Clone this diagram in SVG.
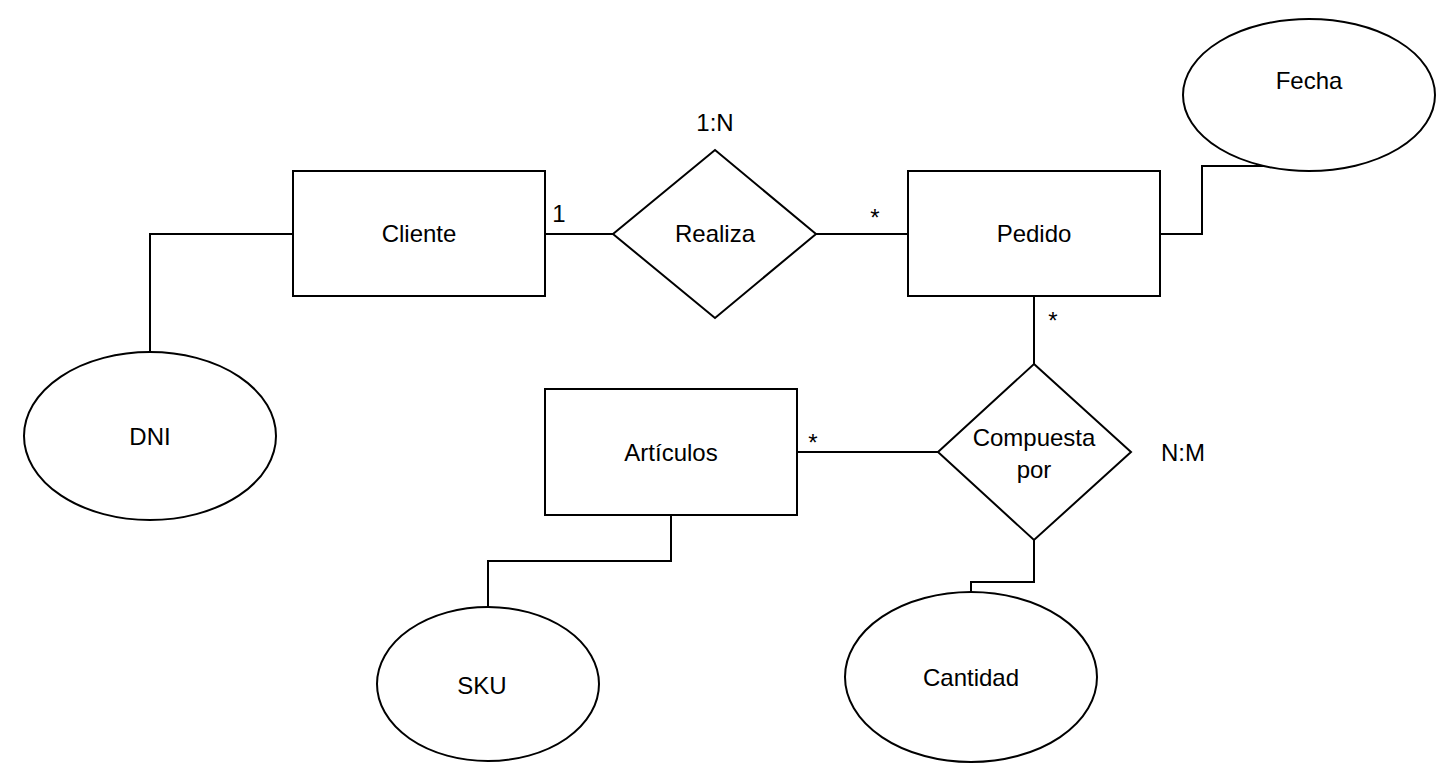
<svg xmlns="http://www.w3.org/2000/svg" width="1448" height="777" viewBox="0 0 1448 777">
<style>
.s{fill:#fff;stroke:#000;stroke-width:2}
.c{fill:none;stroke:#000;stroke-width:2}
text{font-family:"Liberation Sans",Arial,sans-serif;font-size:24px;fill:#000;text-anchor:middle}
</style>
<rect width="1448" height="777" fill="#fff"/>
<g id="connectors">
<polyline class="c" points="293,234 150,234 150,352"/>
<line class="c" x1="545" y1="234" x2="613" y2="234"/>
<line class="c" x1="816" y1="234" x2="908" y2="234"/>
<polyline class="c" points="1160,234 1202,234 1202,166 1266,166"/>
<line class="c" x1="1034" y1="296" x2="1034" y2="364"/>
<line class="c" x1="797" y1="452" x2="938" y2="452"/>
<polyline class="c" points="671,515 671,561 488,561 488,607"/>
<polyline class="c" points="1034,540 1034,582 971,582 971,593"/>
</g>
<g id="Cliente"><rect class="s" x="293" y="171" width="252" height="125"/><text x="419" y="242">Cliente</text></g>
<g id="Realiza"><polygon class="s" points="715,150 816,234 715,318 613,234"/><text x="715" y="242">Realiza</text></g>
<g id="Pedido"><rect class="s" x="908" y="171" width="252" height="125"/><text x="1034" y="242">Pedido</text></g>
<g id="Fecha"><ellipse class="s" cx="1309" cy="95" rx="126" ry="76"/><text x="1309" y="89">Fecha</text></g>
<g id="DNI"><ellipse class="s" cx="150" cy="436" rx="126" ry="84"/><text x="150" y="445">DNI</text></g>
<g id="Articulos"><rect class="s" x="545" y="389" width="252" height="126"/><text x="671" y="461">Artículos</text></g>
<g id="CompuestaPor"><polygon class="s" points="1034,364 1131,452 1034,540 938,452"/><text x="1034" y="446">Compuesta</text><text x="1034" y="478">por</text></g>
<g id="SKU"><ellipse class="s" cx="488" cy="684" rx="111" ry="77"/><text x="482" y="694">SKU</text></g>
<g id="Cantidad"><ellipse class="s" cx="971" cy="677" rx="126" ry="85"/><text x="971" y="686">Cantidad</text></g>
<g id="labels">
<text x="715" y="131">1:N</text>
<text x="559" y="222">1</text>
<text x="875" y="226">*</text>
<text x="1053" y="329">*</text>
<text x="813" y="451">*</text>
<text x="1183" y="461">N:M</text>
</g>
</svg>
